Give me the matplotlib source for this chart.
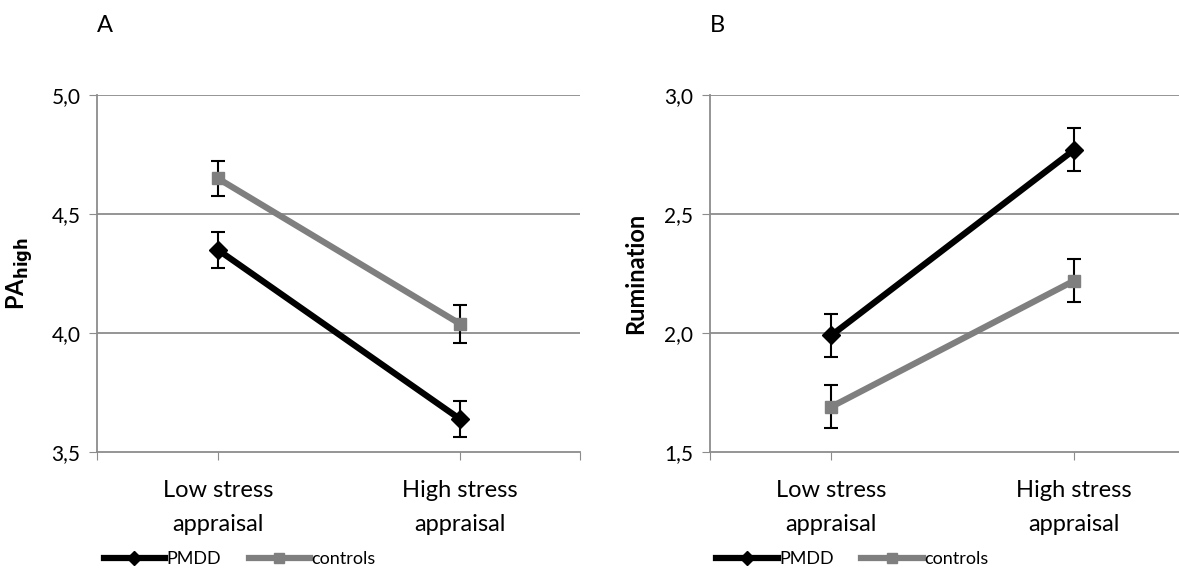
import matplotlib

matplotlib.use("Agg")
import matplotlib.pyplot as plt
from matplotlib.lines import Line2D

plt.rcParams["font.family"] = ["Lato", "DejaVu Sans"]

categories = ["Low stress\nappraisal", "High stress\nappraisal"]
groups = ["PMDD", "controls"]

pa_pmdd = [4.35, 3.64]
pa_pmdd_err = [0.075, 0.075]
pa_controls = [4.65, 4.04]
pa_controls_err = [0.075, 0.08]

rum_pmdd = [1.99, 2.77]
rum_pmdd_err = [0.09, 0.09]
rum_controls = [1.69, 2.22]
rum_controls_err = [0.09, 0.09]

pa_ticks = [3.5, 4.0, 4.5, 5.0]
rum_ticks = [1.5, 2.0, 2.5, 3.0]

grid_c = "#8c8c8c"
gray = "#7f7f7f"

fig = plt.figure(figsize=(11.79, 5.73), dpi=100)
ax_a = fig.add_axes([0.0823, 0.211, 0.410, 0.623])
ax_b = fig.add_axes([0.602, 0.211, 0.412, 0.623])


def draw_panel(ax, pmdd, pmdd_err, ctrl, ctrl_err, ticks, ylabel, letter):
    x = [0, 1]
    ax.errorbar(x, ctrl, yerr=ctrl_err, color=gray, lw=4.5, marker="s", ms=9,
                ecolor="black", elinewidth=1.5, capsize=5, capthick=1.5, zorder=3)
    ax.errorbar(x, pmdd, yerr=pmdd_err, color="black", lw=4.5, marker="D", ms=9,
                ecolor="black", elinewidth=1.5, capsize=5, capthick=1.5, zorder=4)
    ax.set_xlim(-0.5, 1.5)
    ax.set_ylim(ticks[0], ticks[-1])
    ax.set_yticks(ticks)
    ax.set_yticklabels([f"{t:.1f}".replace(".", ",") for t in ticks], fontsize=15)
    ax.set_xticks([-0.5, 0, 1, 1.5])
    ax.set_xticklabels(["", categories[0], categories[1], ""], fontsize=17, linespacing=1.75)
    ax.tick_params(axis="x", length=6, color=grid_c, pad=14)
    ax.tick_params(axis="y", length=6, color=grid_c, pad=6)
    for t in ticks[1:]:
        ax.axhline(t, color=grid_c, lw=1.3, zorder=1)
    for s in ["top", "right"]:
        ax.spines[s].set_visible(False)
    for s in ["left", "bottom"]:
        ax.spines[s].set_color(grid_c)
        ax.spines[s].set_linewidth(1.3)
    ax.set_ylabel(ylabel, fontsize=17, fontweight="bold", labelpad=12)
    ax.text(0.0, 1.195, letter, transform=ax.transAxes, fontsize=17, va="center")
    handles = [
        Line2D([], [], color="black", lw=4.5, marker="D", ms=7),
        Line2D([], [], color=gray, lw=4.5, marker="s", ms=7),
    ]
    ax.legend(handles, groups, loc="center left", bbox_to_anchor=(-0.02, -0.30),
              ncol=2, frameon=False, fontsize=13, handlelength=3.4,
              handletextpad=0.1, columnspacing=1.5)


draw_panel(ax_a, pa_pmdd, pa_pmdd_err, pa_controls, pa_controls_err, pa_ticks,
           r"PA$_{\mathbf{high}}$", "A")
draw_panel(ax_b, rum_pmdd, rum_pmdd_err, rum_controls, rum_controls_err, rum_ticks,
           "Rumination", "B")

fig.savefig("out.png", dpi=100)
